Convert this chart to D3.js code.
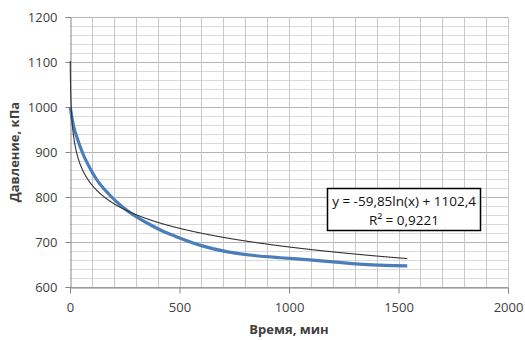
<!DOCTYPE html>
<html><head><meta charset="utf-8">
<script src="https://cdn.jsdelivr.net/npm/d3@7"></script>
<style>body{margin:0;background:#fff}svg{display:block}text{font-family:"Open Sans","Noto Sans",sans-serif}</style>
</head><body><svg id="c" width="525" height="340"></svg>
<script>
const times = [1, 15, 30, 60, 90, 120, 180, 240, 300, 360, 420, 480, 600, 720, 840, 960, 1080, 1200, 1320, 1440, 1540];
const pressure = [1000, 960, 935, 895, 865, 840, 805, 778, 757, 740, 725, 713, 692, 678, 670, 665, 661, 656, 651, 648, 647];
const trendCoef = [-59.85, 1102.4]; // y = a ln(x) + b
const trendLabel = ["y = -59,85ln(x) + 1102,4", "R² = 0,9221"];
const xTicks = [0, 500, 1000, 1500, 2000];
const yTicks = [600, 700, 800, 900, 1000, 1100, 1200];
const xTitle = "Время, мин";
const yTitle = "Давление, кПа";

const svg = d3.select("#c");
const L = 70, R = 508, T = 17, B = 287;
const x = d3.scaleLinear().domain([0, 2000]).range([L, R]);
const y = d3.scaleLinear().domain([600, 1200]).range([B, T]);

// grid
const g = svg.append("g");
g.selectAll(".hm").data(d3.range(600, 1201, 20)).join("line")
  .attr("x1", L).attr("x2", R).attr("y1", d => Math.round(y(d)) + 0.5).attr("y2", d => Math.round(y(d)) + 0.5)
  .attr("stroke", d => d % 100 === 0 ? "#b4b4b4" : "#d9d9d9").attr("stroke-width", 1);
g.selectAll(".vm").data(d3.range(100, 2001, 100)).join("line")
  .attr("y1", T).attr("y2", B).attr("x1", d => Math.round(x(d)) + 0.5).attr("x2", d => Math.round(x(d)) + 0.5)
  .attr("stroke", "#c8c8c8").attr("stroke-width", 1);

// axes
const xa = svg.append("g").attr("transform", `translate(0,${Math.round(B) + 0.5})`)
  .call(d3.axisBottom(x).tickValues(xTicks).tickSize(6).tickPadding(9).tickFormat(d3.format("d")));
const ya = svg.append("g").attr("transform", `translate(${L + 0.5},0)`)
  .call(d3.axisLeft(y).tickValues(yTicks).tickSize(5).tickPadding(8).tickFormat(d3.format("d")));
[xa, ya].forEach(a => {
  a.select(".domain").attr("stroke", "#868686");
  a.selectAll(".tick line").attr("stroke", "#868686");
  a.selectAll(".tick text").attr("font-size", 13).attr("fill", "#404040");
});

// data line
const line = d3.line().x((d, i) => x(times[i])).y(d => y(d)).curve(d3.curveMonotoneX);
svg.append("path").datum(pressure).attr("d", line)
  .attr("fill", "none").attr("stroke", "#4a7ebb").attr("stroke-width", 3.2).attr("stroke-linecap", "butt");

// trend line from displayed equation
const tx = d3.range(1, 1541, 1);
const tline = d3.line().x(d => x(d)).y(d => y(trendCoef[0] * Math.log(d) + trendCoef[1]));
svg.append("path").datum(tx).attr("d", tline)
  .attr("fill", "none").attr("stroke", "#333").attr("stroke-width", 1.1);

// equation box
const bx = 327, by = 188, bw = 153, bh = 42;
svg.append("rect").attr("x", bx + 0.5).attr("y", by + 0.5).attr("width", bw).attr("height", bh)
  .attr("fill", "#fff").attr("stroke", "#000").attr("stroke-width", 1.5);
svg.append("text").attr("x", bx + bw / 2 + 0.5).attr("y", by + 18).attr("text-anchor", "middle")
  .attr("font-size", 13.5).attr("fill", "#111").text(trendLabel[0]);
svg.append("text").attr("x", bx + bw / 2 + 0.5).attr("y", by + 37).attr("text-anchor", "middle")
  .attr("font-size", 13.5).attr("fill", "#111").text(trendLabel[1]);

// titles
svg.append("text").attr("x", (L + R) / 2).attr("y", 334).attr("text-anchor", "middle")
  .attr("font-size", 13).attr("font-weight", "bold").attr("fill", "#404040").text(xTitle);
svg.append("text").attr("transform", `translate(19,${(T + B) / 2}) rotate(-90)`).attr("text-anchor", "middle")
  .attr("font-size", 13).attr("font-weight", "bold").attr("fill", "#404040").text(yTitle);
</script></body></html>
